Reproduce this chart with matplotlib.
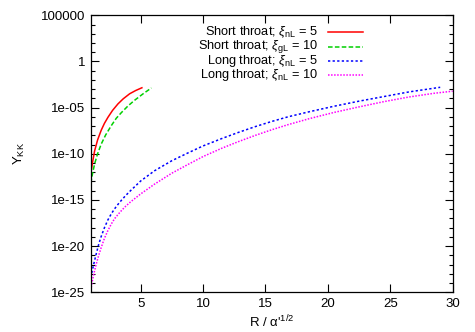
import matplotlib
matplotlib.use("Agg")
import matplotlib.pyplot as plt
import matplotlib.ticker as mticker
import numpy as np

plt.rcParams['font.family'] = ['Liberation Sans', 'DejaVu Sans']
plt.rcParams['font.size'] = 9.5
plt.rcParams['mathtext.fontset'] = 'custom'
plt.rcParams['mathtext.rm'] = 'Liberation Sans'
plt.rcParams['mathtext.it'] = 'Liberation Sans:italic'

# values (x = R / alpha'^1/2, y = log10 Y_KK)
short5_x = [1.0, 1.15, 1.31, 1.55, 1.84, 2.1, 2.38, 2.75, 3.18, 3.6, 4.12, 4.6, 5.1]
short5_log = [-12.2, -10.9, -9.7, -8.5, -7.45, -6.7, -6.05, -5.3, -4.6, -4.05, -3.5, -3.15, -2.85]
short10_x = [1.0, 1.15, 1.31, 1.55, 1.84, 2.2, 2.65, 3.05, 3.45, 4.0, 4.52, 5.2, 5.86]
short10_log = [-13.2, -12.1, -11.1, -10.0, -8.95, -7.95, -6.95, -6.15, -5.55, -4.8, -4.2, -3.5, -2.87]
long5_x = [1.0, 1.1, 1.2, 1.32, 1.44, 1.64, 1.84, 2.1, 2.38, 2.65, 2.9, 3.2, 3.45, 3.8,
           4.2, 5.0, 6.1, 7.5, 8.8, 10.0, 11.5, 12.8, 14.2, 15.5, 16.8, 18.5, 20.5,
           22.5, 24.5, 26.5, 29.0]
long5_log = [-23.4, -22.8, -22.2, -21.5, -20.85, -19.8, -18.95, -18.0, -17.15, -16.5,
             -15.98, -15.45, -15.05, -14.52, -13.98, -12.95, -11.85, -10.75, -9.9, -9.15,
             -8.35, -7.7, -7.05, -6.5, -6.0, -5.45, -4.85, -4.3, -3.8, -3.3, -2.8]
long10_x = [1.0, 1.1, 1.2, 1.32, 1.44, 1.64, 1.84, 2.1, 2.38, 2.65, 2.9, 3.2, 3.45, 3.8,
            4.2, 5.0, 6.1, 7.5, 8.8, 10.0, 11.5, 12.8, 14.2, 15.5, 16.8, 18.5, 20.5,
            22.5, 24.5, 26.5, 28.5, 30.0]
long10_log = [-24.8, -24.0, -23.3, -22.6, -21.95, -21.0, -20.15, -19.15, -18.3, -17.6,
              -17.05, -16.55, -16.17, -15.68, -15.2, -14.35, -13.3, -12.1, -11.15, -10.3,
              -9.4, -8.7, -8.0, -7.4, -6.85, -6.2, -5.52, -4.92, -4.35, -3.85, -3.45, -3.22]

labels = ["Short throat; $\\xi_{\\rm nL}$ = 5",
          "Short throat; $\\xi_{\\rm gL}$ = 10",
          "Long throat; $\\xi_{\\rm nL}$ = 5",
          "Long throat; $\\xi_{\\rm nL}$ = 10"]
colors = ["#ff0000", "#00d000", "#0000ff", "#ff00ff"]
dashes = [None, (3, 1.5), (1.5, 1.5), (1, 1)]

series = [(short5_x, short5_log), (short10_x, short10_log),
          (long5_x, long5_log), (long10_x, long10_log)]

fig = plt.figure(figsize=(4.75, 3.32), dpi=100)
ax = fig.add_axes([0.191, 0.1196, 0.762, 0.8344])

for (xs, lg), c, d in zip(series, colors, dashes):
    ys = 10.0 ** np.array(lg)
    line, = ax.plot(xs, ys, color=c, lw=1.1)
    if d is not None:
        line.set_dashes(d)

ax.set_yscale('log')
ax.set_xlim(1, 30)
ax.set_ylim(1e-25, 1e5)

ax.set_xticks([5, 10, 15, 20, 25, 30])
ax.xaxis.set_minor_locator(mticker.NullLocator())
ymaj = [1e-25, 1e-20, 1e-15, 1e-10, 1e-05, 1, 1e5]
ylab = ["1e-25", "1e-20", "1e-15", "1e-10", "1e-05", "1", "100000"]
ax.yaxis.set_major_locator(mticker.FixedLocator(ymaj))
ax.yaxis.set_major_formatter(mticker.FixedFormatter(ylab))
ax.yaxis.set_minor_locator(mticker.FixedLocator([10.0 ** k for k in range(-25, 6)]))
ax.yaxis.set_minor_formatter(mticker.NullFormatter())
ax.tick_params(which='both', direction='in', top=True, right=True, width=0.8)
ax.tick_params(which='major', length=6, pad=4)
ax.tick_params(which='minor', length=3)
for s in ax.spines.values():
    s.set_linewidth(0.9)

ax.set_xlabel("R / \u03b1'$^{1/2}$", labelpad=3)
ax.set_ylabel("Y$_{\\rm KK}$", labelpad=10)

# gnuplot-style key: right-aligned text, sample line to the right
key_y = [0.938, 0.887, 0.836, 0.785]
for lab, c, d, yk in zip(labels, colors, dashes, key_y):
    ax.text(0.628, yk, lab, transform=ax.transAxes, ha='right', va='center', fontsize=9.2)
    ln, = ax.plot([0.655, 0.752], [yk, yk], transform=ax.transAxes, color=c, lw=1.1)
    if d is not None:
        ln.set_dashes(d)

fig.savefig("out.png", dpi=100)
